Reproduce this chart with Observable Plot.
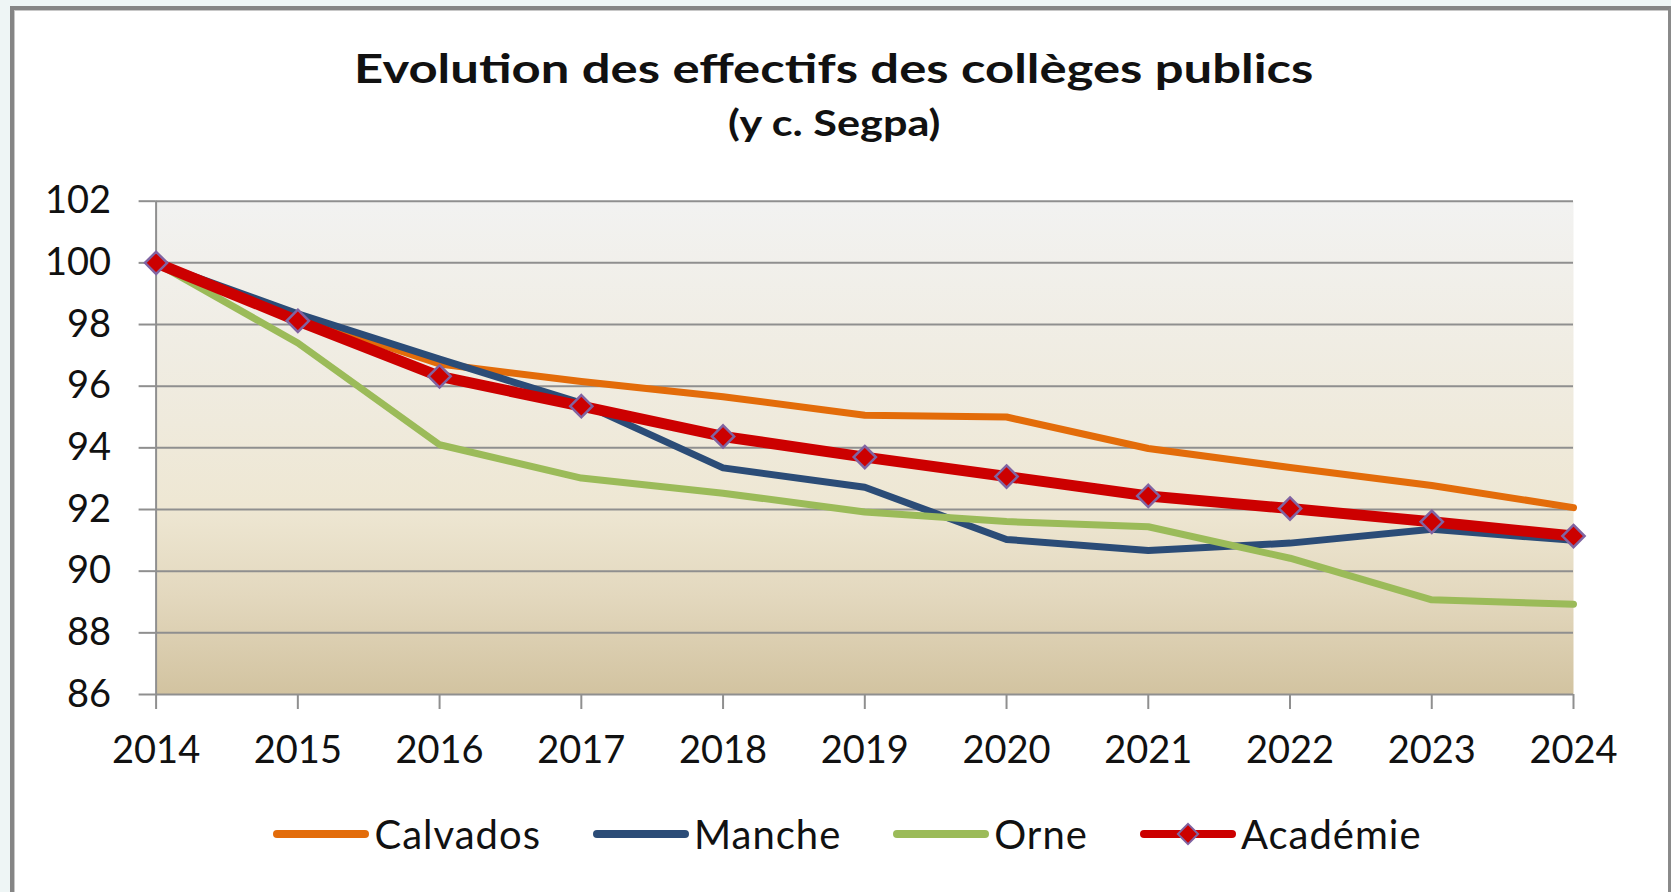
<!DOCTYPE html>
<html>
<head>
<meta charset="utf-8">
<script src="https://cdn.jsdelivr.net/npm/d3@7"></script>
<script src="https://cdn.jsdelivr.net/npm/@observablehq/plot@0.6"></script>
<style>
  html, body { margin: 0; padding: 0; }
  body { width: 1671px; height: 892px; background: #eef5f5; overflow: hidden; position: relative; font-family: Lato, "Open Sans", sans-serif; }
  #frame { position: absolute; left: 10px; top: 6px; width: 1654px; height: 900px; background: #fff;
           border-top: 4px solid #858585; border-left: 4px solid #858585; border-right: 3px solid #8a8a8a;
           box-shadow: inset 1px 1px 0 #c8c8c8; }
  #title { position: absolute; left: 0; width: 1671px; top: 48px; text-align: center; font-weight: bold; font-size: 40px; line-height: 40px; color: #111; transform: scaleX(1.27); transform-origin: 842px 0; }
  #subtitle { position: absolute; left: 0; width: 1671px; top: 104px; text-align: center; font-weight: bold; font-size: 36px; line-height: 36px; color: #111; transform: scaleX(1.2); transform-origin: 842px 0; }
  #chart { position: absolute; left: 0; top: 180px; }
  #legend { position: absolute; left: 0; width: 1647px; padding-left: 24px; top: 814px; display: flex; justify-content: center; align-items: center; gap: 52px; font-size: 40px; letter-spacing: 1px; color: #111; }
  .item { display: flex; align-items: center; }
  .item span { margin-left: 5px; line-height: 40px; }
</style>
</head>
<body>
<div id="frame"></div>
<div id="title">Evolution des effectifs des collèges publics</div>
<div id="subtitle">(y c. Segpa)</div>
<div id="chart"></div>
<div id="legend"></div>
<script>
const years = [2014, 2015, 2016, 2017, 2018, 2019, 2020, 2021, 2022, 2023, 2024];
const calvados = [100, 98.25, 96.72, 96.15, 95.66, 95.06, 95.0, 93.98, 93.36, 92.78, 92.06];
const manche   = [100, 98.35, 96.88, 95.45, 93.35, 92.72, 91.03, 90.67, 90.91, 91.36, 91.0];
const orne     = [100, 97.4, 94.1, 93.02, 92.53, 91.92, 91.61, 91.44, 90.42, 89.07, 88.93];
const academie = [100, 98.12, 96.32, 95.35, 94.37, 93.7, 93.07, 92.44, 92.03, 91.6, 91.14];
const yTicks = [86, 88, 90, 92, 94, 96, 98, 100, 102];
const seriesNames = ["Calvados", "Manche", "Orne", "Académie"];
const seriesColors = ["#e36c0a", "#2b4c77", "#9bbb59", "#cc0000"];

const toRows = (arr) => years.map((yr, i) => ({year: yr, value: arr[i]}));
const rowsCal = toRows(calvados), rowsMan = toRows(manche), rowsOrn = toRows(orne), rowsAca = toRows(academie);

const gridColor = "#8f8f8f";
const plot = Plot.plot({
  width: 1671,
  height: 600,
  marginLeft: 155.6,
  marginRight: 98,
  marginTop: 20.7,
  marginBottom: 86,
  style: {fontFamily: "Lato, 'Open Sans', sans-serif", fontSize: "38px", color: "#111", background: "transparent", overflow: "visible"},
  x: {domain: [2014, 2024]},
  y: {domain: [86, 102]},
  marks: [
    Plot.frame({fill: "url(#bgGrad)", stroke: "none"}),
    Plot.ruleY(yTicks, {stroke: gridColor, strokeWidth: 2}),
    Plot.ruleX([2014], {stroke: gridColor, strokeWidth: 2}),
    Plot.axisY({ticks: yTicks, tickSize: 17, tickPadding: 28, stroke: gridColor, strokeWidth: 2, label: null, tickFormat: d => String(d)}),
    Plot.axisX({ticks: years, tickSize: 15, tickPadding: 27, stroke: gridColor, strokeWidth: 2, label: null, tickFormat: d => String(d)}),
    Plot.line(rowsCal, {x: "year", y: "value", stroke: seriesColors[0], strokeWidth: 7, strokeLinejoin: "round"}),
    Plot.line(rowsMan, {x: "year", y: "value", stroke: seriesColors[1], strokeWidth: 7, strokeLinejoin: "round"}),
    Plot.line(rowsOrn, {x: "year", y: "value", stroke: seriesColors[2], strokeWidth: 7, strokeLinejoin: "round"}),
    Plot.line(rowsAca, {x: "year", y: "value", stroke: seriesColors[3], strokeWidth: 11, strokeLinejoin: "round"}),
    Plot.dot(rowsAca, {x: "year", y: "value", symbol: "diamond2", r: 10, fill: "#cc0000", stroke: "#8064a2", strokeWidth: 2.5})
  ]
});
d3.select(plot).insert("defs", ":first-child").html(`
  <linearGradient id="bgGrad" x1="0" y1="0" x2="0" y2="1">
    <stop offset="0" stop-color="#f2f2f1"/>
    <stop offset="0.45" stop-color="#efeadc"/>
    <stop offset="0.62" stop-color="#eee7d3"/>
    <stop offset="0.8" stop-color="#e3d8be"/>
    <stop offset="1" stop-color="#d2c3a0"/>
  </linearGradient>`);
document.getElementById("chart").appendChild(plot);

// legend
const legend = d3.select("#legend");
seriesNames.forEach((name, i) => {
  const item = legend.append("div").attr("class", "item");
  const sw = item.append("svg").attr("width", 96).attr("height", 26);
  sw.append("line").attr("x1", 4).attr("x2", 92).attr("y1", 13).attr("y2", 13)
    .attr("stroke", seriesColors[i]).attr("stroke-width", 8).attr("stroke-linecap", "round");
  if (name === "Académie") {
    sw.append("path").attr("d", d3.symbol(d3.symbolDiamond2, 260)()).attr("transform", "translate(48,13)")
      .attr("fill", "#cc0000").attr("stroke", "#8064a2").attr("stroke-width", 2);
  }
  item.append("span").text(name);
});
</script>
</body>
</html>
